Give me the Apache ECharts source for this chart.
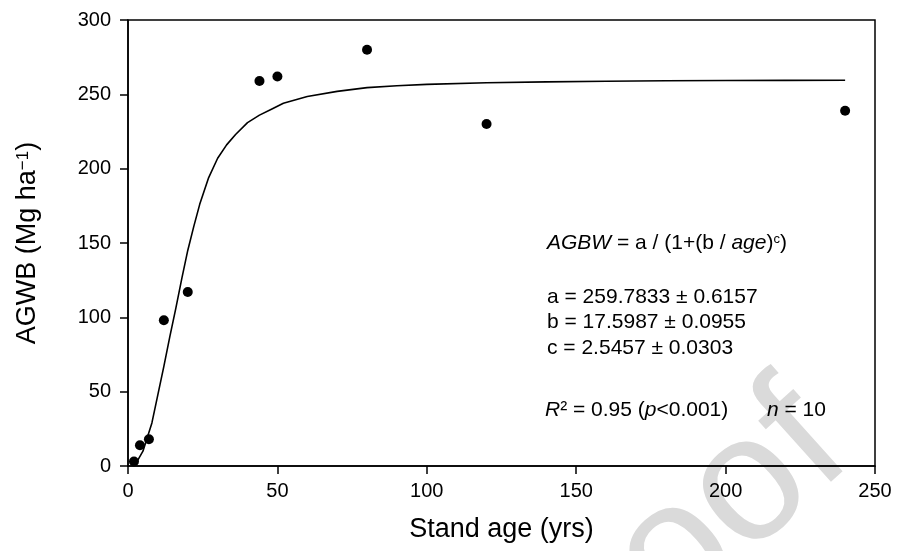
<!DOCTYPE html>
<html>
<head>
<meta charset="utf-8">
<script src="https://cdn.jsdelivr.net/npm/echarts@6/dist/echarts.min.js"></script>
<style>
  html, body { margin: 0; padding: 0; background: #fff; }
  #chart { width: 897px; height: 551px; }
</style>
</head>
<body>
<div id="chart"></div>
<script>
// ---- data ----
var xTicks = [0, 50, 100, 150, 200, 250];
var yTicks = [0, 50, 100, 150, 200, 250, 300];
var standAge = [2, 4, 7, 12, 20, 44, 50, 80, 120, 240];
var agwb = [3, 14, 18, 98, 117, 259, 262, 280, 230, 239];
var curveAge = [2, 3, 5, 8, 10, 12, 14, 16, 18, 20, 22, 24, 27, 30, 33, 36, 40, 44, 48, 52, 60, 70, 80, 90, 100, 120, 140, 160, 180, 200, 220, 240];
var curveAgwb = [1, 3, 10, 29, 48, 67, 87, 106, 126, 145, 161, 176, 194, 207, 216, 223, 231, 236, 240, 244, 248.5, 252, 254.5, 255.8, 256.7, 257.8, 258.4, 258.8, 259.1, 259.3, 259.4, 259.5];
var xTitle = 'Stand age (yrs)';
var yTitle = 'AGWB (Mg ha{sup|\u22121})';
var annLines = [
  '{i|AGBW} = a / (1+(b / {i|age}){s|c})',
  'a = 259.7833 \u00b1 0.6157',
  'b = 17.5987 \u00b1 0.0955',
  'c = 2.5457 \u00b1 0.0303'
];
var annStats = '{i|R}\u00b2 = 0.95 ({i|p}<0.001)';
var annN = '{i|n} = 10';
var watermark = 'Proof';

// ---- chart ----
var FONT = 'Liberation Sans, Arial, sans-serif';
var chart = echarts.init(document.getElementById('chart'), null, { renderer: 'canvas' });

function pairs(xs, ys) { return xs.map(function (x, i) { return [x, ys[i]]; }); }

var annRich = {
  i: { fontFamily: FONT, fontSize: 21, fontStyle: 'italic', fill: '#000' },
  s: { fontFamily: FONT, fontSize: 13, fill: '#000', verticalAlign: 'top', padding: [0, 0, 8, 0] }
};
var annY = [243, 297, 322, 348];
var graphics = [
  {
    type: 'text', x: 665, y: 565, rotation: 42 * Math.PI / 180, z: -100,
    style: { text: watermark, fontFamily: FONT, fontSize: 178, fill: '#dadada', align: 'center', verticalAlign: 'middle' }
  },
  {
    type: 'text', x: 501.5, y: 530,
    style: { text: xTitle, fontFamily: FONT, fontSize: 27, fill: '#000', align: 'center', verticalAlign: 'middle' }
  },
  {
    type: 'text', x: 28, y: 243, rotation: Math.PI / 2,
    style: {
      text: yTitle, fontFamily: FONT, fontSize: 27, fill: '#000', align: 'center', verticalAlign: 'middle',
      rich: { sup: { fontFamily: FONT, fontSize: 17, fill: '#000', verticalAlign: 'top', padding: [0, 0, 10, 0] } }
    }
  }
];
annLines.forEach(function (t, k) {
  graphics.push({
    type: 'text', x: 547, y: annY[k],
    style: { text: t, fontFamily: FONT, fontSize: 21, fill: '#000', align: 'left', verticalAlign: 'middle', rich: annRich }
  });
});
graphics.push({
  type: 'text', x: 545, y: 410,
  style: { text: annStats, fontFamily: FONT, fontSize: 21, fill: '#000', align: 'left', verticalAlign: 'middle', rich: annRich }
});
graphics.push({
  type: 'text', x: 767, y: 410,
  style: { text: annN, fontFamily: FONT, fontSize: 21, fill: '#000', align: 'left', verticalAlign: 'middle', rich: annRich }
});

var axisCommon = {
  type: 'value',
  axisLine: { show: true, lineStyle: { color: '#000', width: 1.5 } },
  axisTick: { show: true, inside: false, length: 8, lineStyle: { color: '#000', width: 1.5 } },
  splitLine: { show: false },
  axisLabel: { color: '#000', fontSize: 20, fontFamily: FONT }
};

var option = {
  backgroundColor: '#fff',
  animation: false,
  grid: { left: 128, right: 22, top: 20, bottom: 85, show: true, borderColor: '#000', borderWidth: 1.5, backgroundColor: 'transparent' },
  xAxis: echarts.util.merge({
    min: xTicks[0], max: xTicks[xTicks.length - 1], interval: xTicks[1] - xTicks[0],
    axisLabel: { margin: 15 }
  }, axisCommon, false),
  yAxis: echarts.util.merge({
    min: yTicks[0], max: yTicks[yTicks.length - 1], interval: yTicks[1] - yTicks[0],
    axisLabel: { margin: 17 }
  }, axisCommon, false),
  series: [
    {
      type: 'line', data: pairs(curveAge, curveAgwb), showSymbol: false, symbol: 'none',
      smooth: false, lineStyle: { color: '#000', width: 1.6 }, z: 2, silent: true
    },
    {
      type: 'scatter', data: pairs(standAge, agwb), symbol: 'circle', symbolSize: 10,
      itemStyle: { color: '#000', opacity: 1 }, z: 3
    }
  ],
  graphic: graphics
};
chart.setOption(option);
</script>
</body>
</html>
